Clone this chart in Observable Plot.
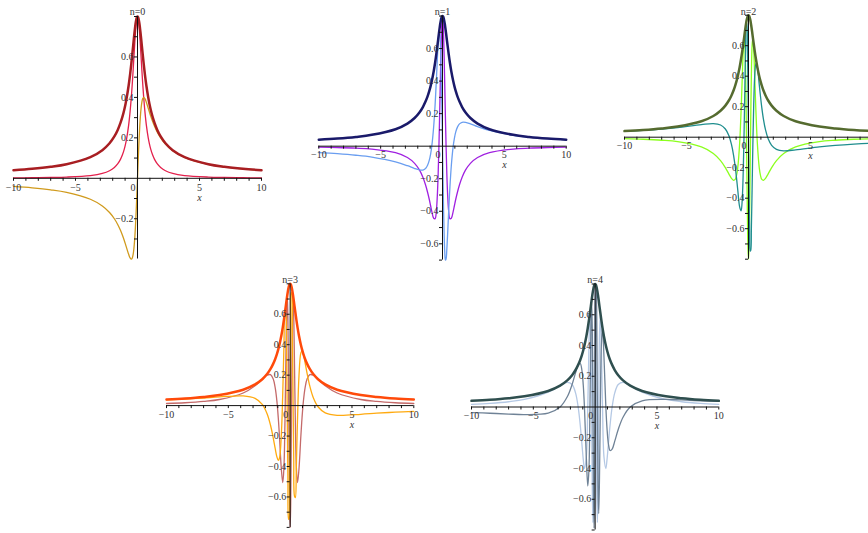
<!DOCTYPE html>
<html><head><meta charset="utf-8">
<script src="https://cdn.jsdelivr.net/npm/d3@7"></script>
<script src="https://cdn.jsdelivr.net/npm/@observablehq/plot@0.6"></script>
<style>
html,body{margin:0;padding:0;background:#fff;}
#wrap{position:relative;width:868px;height:533px;overflow:hidden;background:#fff;}
#wrap svg{position:absolute;}
</style></head><body><div id="wrap"></div>
<script>
// sample positions along x (shared by every panel)
const xs = [-10, -8.5, -7, -5.715, -3.798, -2.836, -2.255, -1.866, -1.586, -1.374, -1.207, -1.072, -0.961, -0.866, -0.714, -0.596, -0.5, -0.42, -0.35, -0.289, -0.233, -0.182, -0.134, -0.088, -0.044, 0, 0.044, 0.088, 0.134, 0.182, 0.233, 0.289, 0.35, 0.42, 0.5, 0.596, 0.714, 0.866, 0.961, 1.072, 1.207, 1.374, 1.586, 1.866, 2.255, 2.836, 3.798, 5.715, 7, 8.5, 10];
// |psi| – the thick envelope, identical in all five panels
const modulus = [0.04, 0.047, 0.057, 0.0697, 0.1044, 0.139, 0.1732, 0.207, 0.2406, 0.274, 0.306, 0.338, 0.369, 0.4, 0.459, 0.514, 0.566, 0.613, 0.655, 0.693, 0.725, 0.752, 0.773, 0.788, 0.797, 0.8, 0.797, 0.788, 0.773, 0.752, 0.725, 0.693, 0.655, 0.613, 0.566, 0.514, 0.459, 0.4, 0.369, 0.338, 0.306, 0.274, 0.2406, 0.207, 0.1732, 0.139, 0.1044, 0.0697, 0.057, 0.047, 0.04];
// n=0
const n0a = [0.002, 0.0028, 0.0041, 0.0061, 0.0136, 0.0241, 0.0375, 0.0536, 0.0723, 0.0936, 0.1172, 0.143, 0.1706, 0.2, 0.263, 0.331, 0.4, 0.469, 0.537, 0.6, 0.657, 0.706, 0.746, 0.776, 0.794, 0.8, 0.794, 0.776, 0.746, 0.706, 0.657, 0.6, 0.537, 0.469, 0.4, 0.331, 0.263, 0.2, 0.1706, 0.143, 0.1172, 0.0936, 0.0723, 0.0536, 0.0375, 0.0241, 0.0136, 0.0061, 0.0041, 0.0028, 0.002];
const n0b = [-0.0399, -0.0469, -0.0568, -0.0694, -0.1035, -0.1368, -0.1691, -0.2, -0.2294, -0.2571, -0.2828, -0.3064, -0.3277, -0.3464, -0.3759, -0.3939, -0.4, -0.3939, -0.3759, -0.3464, -0.3064, -0.2572, -0.2, -0.1368, -0.0695, 0, 0.0695, 0.1368, 0.2, 0.2572, 0.3064, 0.3464, 0.3759, 0.3939, 0.4, 0.3939, 0.3759, 0.3464, 0.3277, 0.3064, 0.2828, 0.2571, 0.2294, 0.2, 0.1691, 0.1368, 0.1035, 0.0694, 0.0568, 0.0469, 0.0399];
// n=1
const n1a = [-0.006, -0.0082, -0.0121, -0.018, -0.04, -0.0695, -0.1054, -0.146, -0.1909, -0.237, -0.283, -0.326, -0.366, -0.4, -0.443, -0.445, -0.4, -0.307, -0.17, 0, 0.188, 0.376, 0.547, 0.682, 0.77, 0.8, 0.77, 0.682, 0.547, 0.376, 0.188, 0, -0.17, -0.307, -0.4, -0.445, -0.443, -0.4, -0.366, -0.326, -0.283, -0.237, -0.1909, -0.146, -0.1054, -0.0695, -0.04, -0.018, -0.0121, -0.0082, -0.006];
const n1b = [-0.0396, -0.0463, -0.0557, -0.0673, -0.0965, -0.12, -0.1374, -0.146, -0.1465, -0.137, -0.1171, -0.0875, -0.0482, 0, 0.119, 0.257, 0.4, 0.531, 0.633, 0.693, 0.7, 0.651, 0.547, 0.394, 0.206, 0, -0.206, -0.394, -0.547, -0.651, -0.7, -0.693, -0.633, -0.531, -0.4, -0.257, -0.119, 0, 0.0482, 0.0875, 0.1171, 0.137, 0.1465, 0.146, 0.1374, 0.12, 0.0965, 0.0673, 0.0557, 0.0463, 0.0396];
// n=2
const n2a = [-0.0099, -0.0136, -0.0199, -0.0295, -0.0636, -0.1065, -0.1536, -0.2, -0.2404, -0.27, -0.283, -0.277, -0.249, -0.2, -0.04, 0.176, 0.4, 0.576, 0.653, 0.6, 0.416, 0.1306, -0.2, -0.507, -0.722, -0.8, -0.722, -0.507, -0.2, 0.1306, 0.416, 0.6, 0.653, 0.576, 0.4, 0.176, -0.04, -0.2, -0.249, -0.277, -0.283, -0.27, -0.2404, -0.2, -0.1536, -0.1065, -0.0636, -0.0295, -0.0199, -0.0136, -0.0099];
const n2b = [0.0388, 0.045, 0.0534, 0.0632, 0.0828, 0.0893, 0.08, 0.0536, 0.0105, -0.0476, -0.1171, -0.194, -0.272, -0.346, -0.457, -0.483, -0.4, -0.21, 0.0571, 0.347, 0.594, 0.741, 0.747, 0.604, 0.337, 0, -0.337, -0.604, -0.747, -0.741, -0.594, -0.347, -0.0571, 0.21, 0.4, 0.483, 0.457, 0.346, 0.272, 0.194, 0.1171, 0.0476, -0.0105, -0.0536, -0.08, -0.0893, -0.0828, -0.0632, -0.0534, -0.045, -0.0388];
// n=3
const n3a = [0.0137, 0.0188, 0.0273, 0.04, 0.0828, 0.1306, 0.173, 0.2, 0.2029, 0.176, 0.1171, 0.0295, -0.0799, -0.2, -0.416, -0.506, -0.4, -0.1064, 0.277, 0.6, 0.722, 0.576, 0.2, -0.2695, -0.653, -0.8, -0.653, -0.2695, 0.2, 0.576, 0.722, 0.6, 0.277, -0.1064, -0.4, -0.506, -0.416, -0.2, -0.0799, 0.0295, 0.1171, 0.176, 0.2029, 0.2, 0.173, 0.1306, 0.0828, 0.04, 0.0273, 0.0188, 0.0137];
const n3b = [0.0376, 0.0431, 0.05, 0.0571, 0.0636, 0.0475, 0.0076, -0.0536, -0.1293, -0.21, -0.283, -0.337, -0.36, -0.346, -0.194, 0.0892, 0.4, 0.604, 0.594, 0.3465, -0.0632, -0.483, -0.747, -0.74, -0.457, 0, 0.457, 0.74, 0.747, 0.483, 0.0632, -0.3465, -0.594, -0.604, -0.4, -0.0892, 0.194, 0.346, 0.36, 0.337, 0.283, 0.21, 0.1293, 0.0536, -0.0076, -0.0475, -0.0636, -0.0571, -0.05, -0.0431, -0.0376];
// n=4
const n4a = [0.0174, 0.0237, 0.0341, 0.0493, 0.0965, 0.139, 0.16, 0.146, 0.0921, 0, -0.1171, -0.239, -0.341, -0.4, -0.325, 0, 0.4, 0.613, 0.463, 0, -0.513, -0.752, -0.547, 0, 0.564, 0.8, 0.564, 0, -0.547, -0.752, -0.513, 0, 0.463, 0.613, 0.4, 0, -0.325, -0.4, -0.341, -0.239, -0.1171, 0, 0.0921, 0.146, 0.16, 0.139, 0.0965, 0.0493, 0.0341, 0.0237, 0.0174];
const n4b = [-0.036, -0.0406, -0.0457, -0.0493, -0.04, 0, 0.0663, 0.146, 0.2223, 0.274, 0.283, 0.239, 0.1412, 0, -0.325, -0.514, -0.4, 0, 0.463, 0.693, 0.513, 0, -0.547, -0.788, -0.564, 0, 0.564, 0.788, 0.547, 0, -0.513, -0.693, -0.463, 0, 0.4, 0.514, 0.325, 0, -0.1412, -0.239, -0.283, -0.274, -0.2223, -0.146, -0.0663, 0, 0.04, 0.0493, 0.0457, 0.0406, 0.036];

const panelTitles = ["n=0", "n=1", "n=2", "n=3", "n=4"];
const xTickLabels = [-10, -5, 0, 5, 10];
const yTickLabels = [-0.6, -0.4, -0.2, 0.2, 0.4, 0.6];

const panels = [
  {title: panelTitles[0], a: n0a, b: n0b, yDomain: [-0.399, 0.8], colors: ["#e3204c", "#d09a1c", "#a81e22"], box: [0, 0, 270, 265], m: [16, 9, 6.5, 13]},
  {title: panelTitles[1], a: n1a, b: n1b, yDomain: [-0.7, 0.8], colors: ["#a020e0", "#6a9ef0", "#1a1a6a"], box: [300, 0, 280, 265], m: [15.5, 14.3, 5.4, 18.3]},
  {title: panelTitles[2], a: n2a, b: n2b, yDomain: [-0.8, 0.8], colors: ["#8cff1e", "#1f8e8e", "#556b2f"], box: [600, 0, 280, 265], m: [14.7, 8, 6.3, 24]},
  {title: panelTitles[3], a: n3a, b: n3b, yDomain: [-0.8, 0.8], colors: ["#c46a6a", "#ffaa10", "#ff4a0a"], box: [150, 268, 270, 265], m: [15.3, 6.7, 6.1, 16]},
  {title: panelTitles[4], a: n4a, b: n4b, yDomain: [-0.8, 0.8], colors: ["#b4c8e4", "#6f8296", "#2f4f4f"], box: [460, 268, 270, 265], m: [15.5, 11.7, 3.5, 11]}
];

const pageWidth = 868;
const fmt = d => d < 0 ? "\u2212" + Math.abs(d) : String(d);
const wrap = document.getElementById("wrap");

for (const p of panels) {
  const [left, top, width, height] = p.box;
  const [mt, mr, mb, ml] = p.m;
  const [y0, y1] = p.yDomain;
  const pyu = (height - mt - mb) / (y1 - y0);
  const pxu = (width - ml - mr) / 20;
  // labels whose centre falls beyond the page edge are not shown (as in the reference)
  const visible = d => left + ml + (d + 10) * pxu + 6 <= pageWidth;
  const xt = d3.range(-10, 11).filter(d => d !== 0);
  const yt = d3.range(Math.ceil(y0 * 10 - 1e-9), Math.floor(y1 * 10 + 1e-9) + 1).map(d => d / 10).filter(d => d !== 0);
  const rows = xs.map((x, i) => ({x, a: p.a[i], b: p.b[i], m: modulus[i]}));
  const [ca, cb, cm] = p.colors;
  const svg = Plot.plot({
    width, height,
    marginTop: mt, marginRight: mr, marginBottom: mb, marginLeft: ml,
    x: {domain: [-10, 10], axis: null},
    y: {domain: p.yDomain, axis: null},
    style: {fontFamily: "'Liberation Serif', 'DejaVu Serif', serif", fontSize: "10px", color: "#333", background: "transparent", overflow: "visible"},
    marks: [
      Plot.line(rows, {x: "x", y: "a", stroke: ca, strokeWidth: 1.3, curve: "catmull-rom"}),
      Plot.line(rows, {x: "x", y: "b", stroke: cb, strokeWidth: 1.3, curve: "catmull-rom"}),
      Plot.line(rows, {x: "x", y: "m", stroke: cm, strokeWidth: 2.5, curve: "catmull-rom"}),
      Plot.ruleY([0], {stroke: "#111", strokeWidth: 1}),
      Plot.ruleX([0], {stroke: "#111", strokeWidth: 1}),
      Plot.ruleX(xt, {x: d => d, y1: 0, y2: -3 / pyu, stroke: "#111"}),
      Plot.ruleY(yt, {y: d => d, x1: 0, x2: -3 / pxu, stroke: "#111"}),
      Plot.text(xTickLabels.filter(d => d !== 0 && visible(d)), {x: d => d, y: 0, text: fmt, dy: 9}),
      Plot.text([0], {x: 0, y: 0, text: d => "0", dy: 9, dx: -4.5}),
      Plot.text(yTickLabels.filter(d => d >= y0 && d <= y1), {x: 0, y: d => d, text: fmt, textAnchor: "end", dx: -4}),
      Plot.text(["x"], {x: 5, y: 0, text: d => d, dy: 19, fontStyle: "italic"}),
      Plot.text([p.title], {frameAnchor: "top", text: d => d, dy: -(mt - 7)})
    ]
  });
  svg.style.left = left + "px";
  svg.style.top = top + "px";
  wrap.appendChild(svg);
}
</script>
</body></html>
